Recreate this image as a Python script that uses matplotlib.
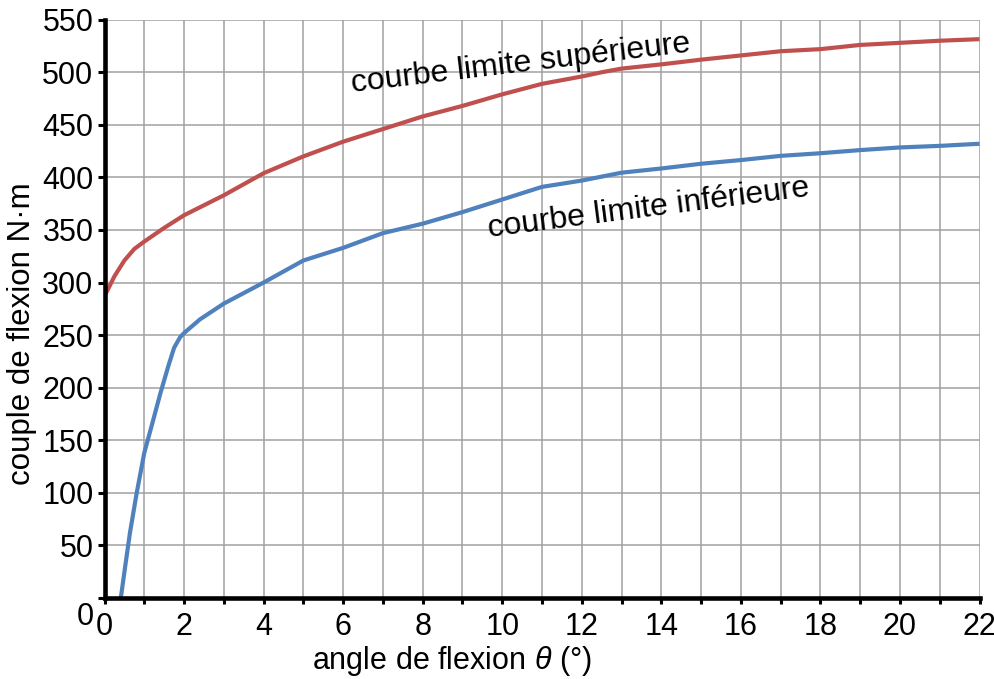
import matplotlib
matplotlib.use("Agg")
import matplotlib.pyplot as plt
import numpy as np

plt.rcParams['font.family'] = ['Liberation Sans', 'DejaVu Sans']
plt.rcParams['mathtext.fontset'] = 'custom'
plt.rcParams['mathtext.it'] = 'Liberation Sans:italic'
plt.rcParams['mathtext.rm'] = 'Liberation Sans'

# upper limit curve
sup_x = [0, 0.25, 0.5, 0.75, 1, 1.5, 2, 3, 4, 5, 6, 7, 8, 9, 10, 11, 12, 12.5, 13,
         14, 15, 16, 17, 18, 19, 20, 21, 22]
sup_y = [287, 306, 321, 332, 339, 352, 364, 383, 404, 420, 434, 446, 458, 468, 479,
         489, 496, 500, 503.5, 507.5, 512, 516, 520, 522, 526, 528, 530, 531.5]

# lower limit curve
inf_x = [0.41, 0.52, 0.64, 0.81, 1.0, 1.23, 1.4, 1.6, 1.75, 1.9, 2.0, 2.4, 3, 4, 5,
         6, 7, 8, 9, 10, 11, 12, 13, 14, 15, 16, 17, 18, 19, 20, 21, 22]
inf_y = [0, 30, 62, 100, 138, 170, 194, 220, 238, 248, 252, 265, 280, 300, 321,
         333, 347, 356, 367, 379, 391, 397, 404.5, 408.5, 413, 416.5, 420.5,
         423, 426, 428.5, 430, 432]

x_major = list(range(0, 23, 2))
x_minor = list(range(0, 23, 1))
y_ticks = list(range(0, 551, 50))

W, H = 994, 679
fig = plt.figure(figsize=(W / 100, H / 100), dpi=100)
ax = fig.add_axes([104.5 / W, 1 - 598 / H, (979.5 - 104.5) / W, (598 - 19.7) / H])

ax.set_xlim(0, 22)
ax.set_ylim(0, 550)

ax.set_xticks(x_major)
ax.set_xticks(x_minor, minor=True)
ax.set_yticks(y_ticks)
ax.set_yticklabels([''] + [str(v) for v in y_ticks[1:]])
ax.set_xticklabels([str(v) for v in x_major])

for v in x_minor:
    ax.axvline(v, color='#a0a0a0', lw=1.1, zorder=1)
for v in y_ticks:
    ax.axhline(v, color='#a0a0a0', lw=1.1, zorder=1)

ax.plot(sup_x, sup_y, color='#c0504d', lw=3.0, zorder=3,
        solid_capstyle='butt', solid_joinstyle='round')
ax.plot(inf_x, inf_y, color='#4f81bd', lw=3.0, zorder=3,
        solid_capstyle='butt', solid_joinstyle='round')

for s in ['top', 'right']:
    ax.spines[s].set_visible(False)
for s in ['left', 'bottom']:
    ax.spines[s].set_linewidth(3.3)
    ax.spines[s].set_color('black')
    ax.spines[s].set_zorder(4)

ax.tick_params(axis='y', which='major', direction='out', length=5, width=2.2,
               labelsize=22, pad=3)
ax.tick_params(axis='x', which='both', direction='out', length=4, width=2.2,
               labelsize=22, pad=6)

# y "0" label, lower than the others
fig.text(94 / W, 1 - 617 / H, '0', fontsize=22, ha='right', va='center')

fig.text(22 / W, 1 - 334 / H, 'couple de flexion N·m', fontsize=22.5,
         rotation=90, ha='center', va='center')
fig.text(452 / W, 1 - 661 / H, r'angle de flexion $\mathit{\theta}$ (°)',
         fontsize=22, ha='center', va='center')

fig.text(521 / W, 1 - 64 / H, 'courbe limite supérieure', fontsize=23,
         rotation=6.8, ha='center', va='center', rotation_mode='anchor')
fig.text(649 / W, 1 - 208 / H, 'courbe limite inférieure', fontsize=23,
         rotation=7.3, ha='center', va='center', rotation_mode='anchor')

fig.savefig('out.png', dpi=100)
